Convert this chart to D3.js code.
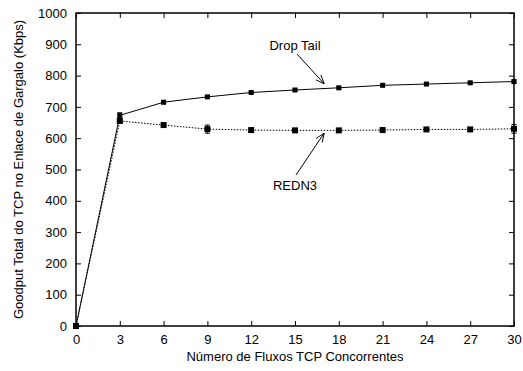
<!DOCTYPE html>
<html><head><meta charset="utf-8">
<script src="https://cdn.jsdelivr.net/npm/d3@7"></script>
<style>body{margin:0;background:#fff}svg{display:block}text{font-family:"Liberation Sans",Arial,sans-serif;fill:#000}</style>
</head><body><svg id="c" width="523" height="371"></svg>
<script>
const flows = [0,3,6,9,12,15,18,21,24,27,30];
const dropTail = [0,673,715,732,746,754,761,769,773,777,781];
const dropTailErr = [0,8,5,3,3,3,3,3,3,3,5];
const redn3 = [0,655,642,629,626,625,625,626,628,628,630];
const redn3Err = [0,6,4,13,4,4,4,4,4,4,14];
const xTicks = [0,3,6,9,12,15,18,21,24,27,30];
const yTicks = [0,100,200,300,400,500,600,700,800,900,1000];

const FS = 13;
const svg = d3.select("#c");
const L=76,R=514,T=13,B=326;
const x = d3.scaleLinear().domain([0,30]).range([L,R]);
const y = d3.scaleLinear().domain([0,1000]).range([B,T]);

svg.append("rect").attr("x",L).attr("y",T).attr("width",R-L).attr("height",B-T)
  .attr("fill","none").attr("stroke","#000").attr("stroke-width",1.5);

const fmt = d3.format("d");
const gx = svg.append("g").attr("transform",`translate(0,${B})`)
  .call(d3.axisBottom(x).tickValues(xTicks).tickFormat(fmt).tickSizeInner(-5).tickSizeOuter(0).tickPadding(9));
const gxt = svg.append("g").attr("transform",`translate(0,${T})`)
  .call(d3.axisTop(x).tickValues(xTicks).tickSizeInner(-5).tickSizeOuter(0).tickFormat(""));
const gy = svg.append("g").attr("transform",`translate(${L},0)`)
  .call(d3.axisLeft(y).tickValues(yTicks).tickFormat(fmt).tickSizeInner(-5).tickSizeOuter(0).tickPadding(9));
const gyr = svg.append("g").attr("transform",`translate(${R},0)`)
  .call(d3.axisRight(y).tickValues(yTicks).tickSizeInner(-5).tickSizeOuter(0).tickFormat(""));
[gx,gxt,gy,gyr].forEach(g=>{g.select(".domain").remove();g.selectAll("line").attr("stroke","#000");
  g.selectAll("text").attr("font-size",FS).attr("font-family","Liberation Sans, Arial, sans-serif").attr("fill","#000");});

svg.append("text").attr("x",(L+R)/2).attr("y",361).attr("text-anchor","middle").attr("font-size",FS)
  .text("Número de Fluxos TCP Concorrentes");
svg.append("text").attr("transform",`translate(23,${(T+B)/2}) rotate(-90)`).attr("text-anchor","middle").attr("font-size",FS)
  .text("Goodput Total do TCP no Enlace de Gargalo (Kbps)");

function series(vals, errs, dash, msize){
  const pts = flows.map((f,i)=>({f,v:vals[i],e:errs[i]}));
  const line = d3.line().x(d=>x(d.f)).y(d=>y(d.v));
  svg.append("path").datum(pts).attr("d",line).attr("fill","none").attr("stroke","#000")
    .attr("stroke-width",1).attr("stroke-dasharray",dash);
  const g = svg.append("g");
  pts.forEach(d=>{
    if(d.e>0){
      g.append("line").attr("x1",x(d.f)).attr("x2",x(d.f)).attr("y1",y(d.v-d.e)).attr("y2",y(d.v+d.e)).attr("stroke","#000");
      [d.v-d.e,d.v+d.e].forEach(v=>g.append("line").attr("x1",x(d.f)-2.5).attr("x2",x(d.f)+2.5)
        .attr("y1",y(v)).attr("y2",y(v)).attr("stroke","#000"));
    }
    g.append("rect").attr("x",x(d.f)-msize/2).attr("y",y(d.v)-msize/2).attr("width",msize).attr("height",msize).attr("fill","#000");
  });
}
series(redn3, redn3Err, "1.5,1.5", 6);
series(dropTail, dropTailErr, null, 5);

svg.append("defs").append("marker").attr("id","ah").attr("viewBox","0 0 10 10").attr("refX",10).attr("refY",5)
  .attr("markerWidth",9).attr("markerHeight",9).attr("orient","auto-start-reverse").attr("markerUnits","userSpaceOnUse")
  .append("path").attr("d","M0,1 L10,5 L0,9").attr("fill","none").attr("stroke","#000");
function note(txt, tx, ty, x1, y1, fx, fv){
  svg.append("text").attr("x",tx).attr("y",ty).attr("text-anchor","middle").attr("font-size",FS).text(txt);
  svg.append("line").attr("x1",x1).attr("y1",y1).attr("x2",x(fx)).attr("y2",y(fv)+ (fv>700?-4:3))
    .attr("stroke","#000").attr("marker-end","url(#ah)");
}
note("Drop Tail", 295, 50, 297, 54, 17, 761);
note("REDN3", 295, 190, 296, 175, 17, 626);
</script></body></html>
